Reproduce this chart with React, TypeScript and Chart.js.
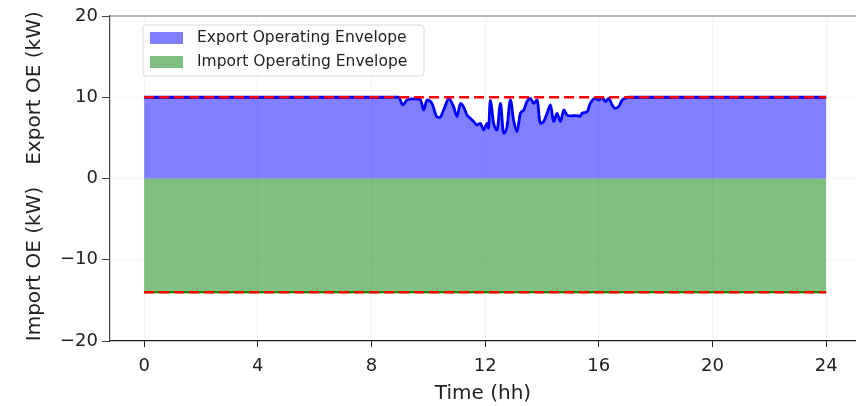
import React, { useEffect, useRef } from 'react';
import { Chart, registerables } from 'chart.js';
Chart.register(...registerables);

const FONT = 'DejaVu Sans';

const hours = [0, 8.96, 9.1, 9.25, 9.5, 9.72, 9.84, 9.95, 10.13, 10.3, 10.4, 10.54, 10.72, 10.89, 11.01, 11.13, 11.24, 11.36, 11.48, 11.6, 11.71, 11.83, 11.95, 12.07, 12.12, 12.18, 12.3, 12.42, 12.54, 12.65, 12.77, 12.89, 13.0, 13.12, 13.24, 13.36, 13.47, 13.59, 13.71, 13.83, 13.94, 14.06, 14.18, 14.3, 14.41, 14.53, 14.65, 14.77, 14.88, 15.0, 15.2, 15.35, 15.41, 15.59, 15.7, 15.88, 16.0, 16.12, 16.23, 16.35, 16.47, 16.58, 16.7, 16.82, 16.94, 17.05, 24];
const exportOE = [10, 10, 9.05, 9.66, 9.8, 9.75, 8.43, 9.66, 9.25, 7.6, 7.5, 8.43, 9.8, 8.84, 7.61, 9.25, 8.84, 7.82, 7.41, 7.0, 6.58, 6.79, 5.97, 6.79, 6.17, 9.6, 6.79, 5.97, 9.25, 5.56, 6.38, 9.66, 7.2, 5.77, 8.02, 8.43, 9.46, 9.87, 9.25, 9.66, 6.79, 7.0, 8.02, 9.05, 7.0, 8.02, 7.0, 8.43, 7.82, 7.7, 7.75, 7.65, 8.02, 8.23, 9.25, 9.87, 9.66, 10, 9.46, 9.87, 9.05, 8.64, 8.84, 9.66, 9.87, 10, 10];
const limitHours = [0, 24];
const importOE = [-14, -14];
const exportLimit = [10, 10];
const importLimit = [-14, -14];
const xTicks = [0, 4, 8, 12, 16, 20, 24];
const yTicks = [-20, -10, 0, 10, 20];
const legendLabels = ['Export Operating Envelope', 'Import Operating Envelope'];
const yTitles = ['Export OE (kW)', 'Import OE (kW)'];

const pts = (xs: number[], ys: number[]) => xs.map((x, i) => ({ x, y: ys[i] }));

const extras = {
  id: 'extras',
  afterDraw(chart: any) {
    const ctx = chart.ctx as CanvasRenderingContext2D;
    const a = chart.chartArea;
    ctx.save();
    ctx.strokeStyle = '#777';
    ctx.lineWidth = 1.2;
    ctx.beginPath();
    ctx.moveTo(a.left, a.top);
    ctx.lineTo(a.right, a.top);
    ctx.stroke();
    ctx.fillStyle = '#222';
    ctx.font = `20px "${FONT}"`;
    ctx.textAlign = 'center';
    ctx.textBaseline = 'middle';
    const ys = [88, 264];
    yTitles.forEach((t, i) => {
      ctx.save();
      ctx.translate(35, ys[i]);
      ctx.rotate(-Math.PI / 2);
      ctx.fillText(t, 0, 0);
      ctx.restore();
    });
    const bx = 143, by = 25, bw = 281, bh = 51;
    ctx.beginPath();
    ctx.roundRect(bx, by, bw, bh, 3);
    ctx.fillStyle = 'rgba(255,255,255,0.8)';
    ctx.fill();
    ctx.strokeStyle = 'rgba(0,0,0,0.15)';
    ctx.lineWidth = 1;
    ctx.stroke();
    const colors = ['rgba(0,0,255,0.5)', 'rgba(0,128,0,0.5)'];
    const rows = [38, 62];
    ctx.font = `15.5px "${FONT}"`;
    ctx.textAlign = 'left';
    legendLabels.forEach((t, i) => {
      ctx.fillStyle = colors[i];
      ctx.fillRect(150, rows[i] - 6, 33, 12);
      ctx.fillStyle = '#222';
      ctx.fillText(t, 197, rows[i]);
    });
    ctx.restore();
  },
};

export default function App() {
  const ref = useRef<HTMLCanvasElement>(null);
  useEffect(() => {
    const canvas = ref.current!;
    const chart = new Chart(canvas, {
      type: 'line',
      data: {
        datasets: [
          {
            data: pts(limitHours, exportLimit),
            borderColor: '#ff0000',
            borderWidth: 2.5,
            borderDash: [10, 5],
            pointRadius: 0,
            fill: false,
            order: 1,
          },
          {
            data: pts(limitHours, importLimit),
            borderColor: '#ff0000',
            borderWidth: 2.5,
            borderDash: [10, 5],
            pointRadius: 0,
            fill: false,
            order: 2,
          },
          {
            data: pts(hours, exportOE),
            borderColor: '#0000ff',
            backgroundColor: 'rgba(0,0,255,0.5)',
            borderWidth: 2.8,
            pointRadius: 0,
            cubicInterpolationMode: 'monotone',
            fill: 'origin',
            order: 3,
          },
          {
            data: pts(limitHours, importOE),
            borderColor: '#008000',
            backgroundColor: 'rgba(0,128,0,0.5)',
            borderWidth: 2,
            pointRadius: 0,
            fill: 'origin',
            order: 4,
          },
        ],
      },
      options: {
        animation: false,
        responsive: false,
        devicePixelRatio: 1,
        layout: { padding: { top: 16, left: 0, right: 0, bottom: 0 } },
        plugins: { legend: { display: false }, tooltip: { enabled: false } },
        scales: {
          x: {
            type: 'linear',
            min: -1.2,
            max: 25.05,
            afterBuildTicks: (s: any) => {
              s.ticks = xTicks.map((v) => ({ value: v }));
            },
            afterFit: (s: any) => {
              s.height = 65;
            },
            grid: { color: 'rgba(0,0,0,0.05)', tickColor: '#222', tickLength: 6 },
            border: { color: '#222', width: 1.2 },
            ticks: {
              font: { family: FONT, size: 18 },
              color: '#222',
              padding: 9,
              maxRotation: 0,
              autoSkip: false,
            },
            title: {
              display: true,
              text: 'Time (hh)',
              font: { family: FONT, size: 20 },
              color: '#222',
              padding: 0,
            },
          },
          y: {
            type: 'linear',
            min: -20,
            max: 20,
            afterBuildTicks: (s: any) => {
              s.ticks = yTicks.map((v) => ({ value: v }));
            },
            afterFit: (s: any) => {
              s.width = 110;
            },
            grid: { color: 'rgba(0,0,0,0.04)', tickColor: '#444', tickLength: 8 },
            border: { color: '#444', width: 1.2 },
            ticks: {
              font: { family: FONT, size: 18 },
              color: '#222',
              padding: 4,
              callback: (v: any) => (v < 0 ? '\u2212' + Math.abs(v) : String(v)),
            },
          },
        },
      },
      plugins: [extras],
    });
    return () => chart.destroy();
  }, []);
  return (
    <div style={{ position: 'fixed', left: 0, top: 0, width: 856, height: 406, background: '#fff' }}>
      <canvas ref={ref} width={856} height={406} style={{ display: 'block' }} />
    </div>
  );
}
